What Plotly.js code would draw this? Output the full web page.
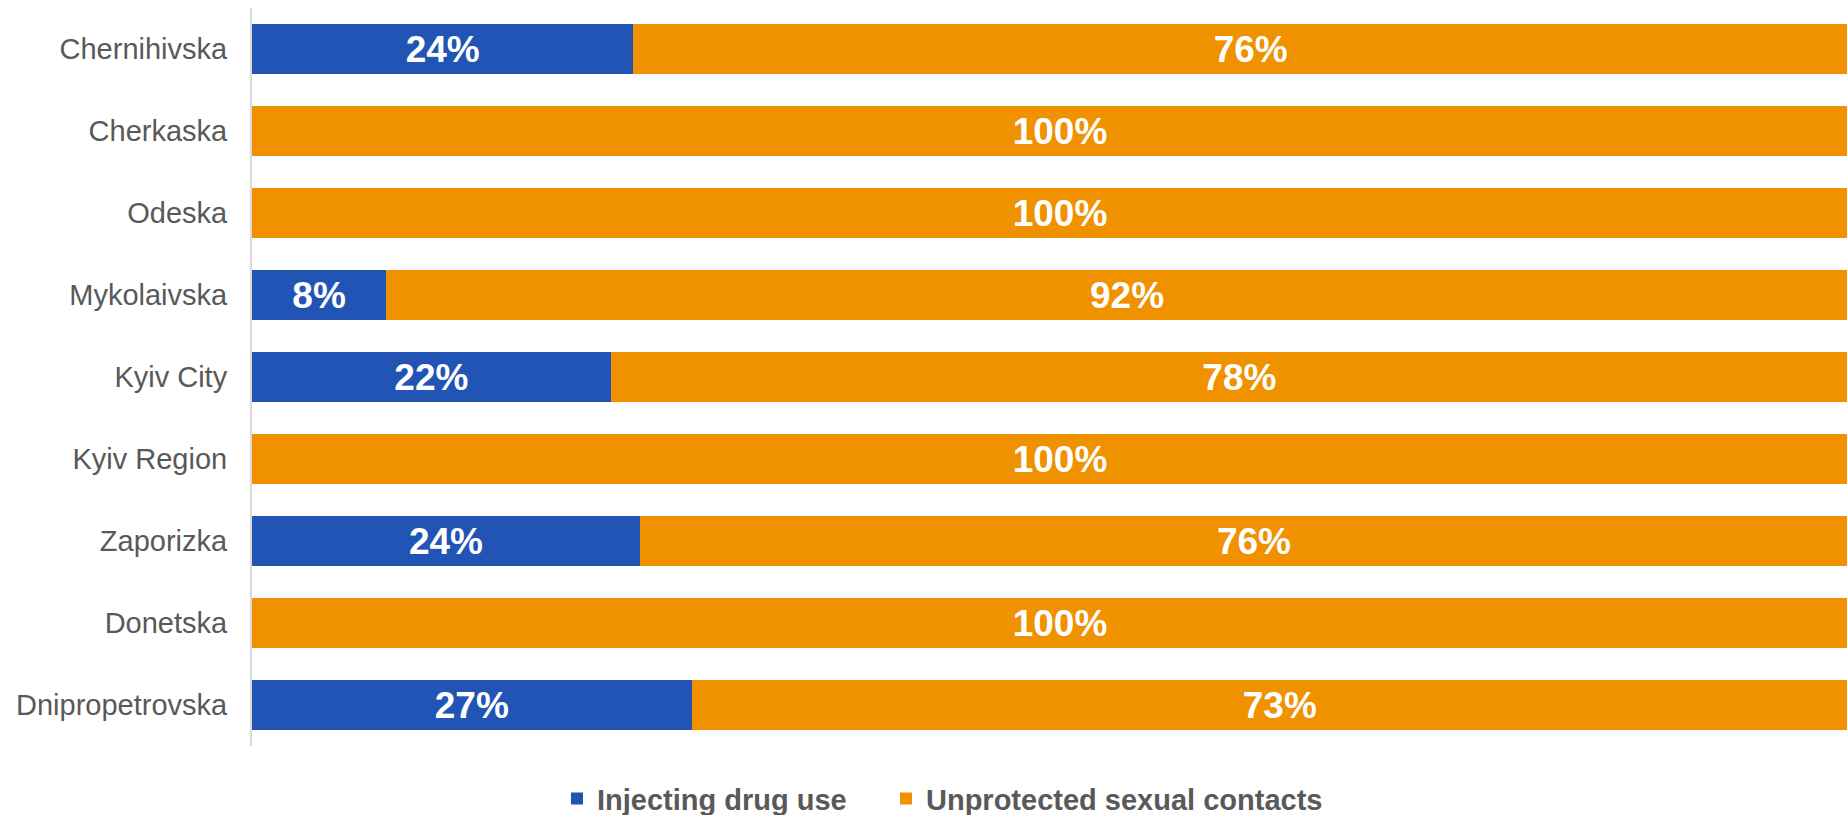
<!DOCTYPE html>
<html>
<head>
<meta charset="utf-8">
<script src="https://cdn.plot.ly/plotly-3.0.1.min.js"></script>
<style>
  html, body { margin: 0; padding: 0; background: #ffffff; }
  #chart { width: 1847px; height: 815px; }
</style>
</head>
<body>
<div id="chart"></div>
<script>
// Categories, top to bottom
const regions = [
  "Chernihivska", "Cherkaska", "Odeska", "Mykolaivska", "Kyiv City",
  "Kyiv Region", "Zaporizka", "Donetska", "Dnipropetrovska"
];
const injectingDrugUse = [23.6, 0, 0, 8.3, 22.2, 0, 24.0, 0, 27.2];
const unprotectedSex   = [76.4, 100, 100, 91.7, 77.8, 100, 76.0, 100, 72.8];
const seriesNames = ["Injecting drug use", "Unprotected sexual contacts"];

const FONT = "Arial, 'Liberation Sans', sans-serif";
const label = v => v > 0 ? Math.round(v) + "%" : "";

const common = {
  type: "bar",
  orientation: "h",
  y: regions,
  textposition: "inside",
  insidetextanchor: "middle",
  constraintext: "none",
  textangle: 0,
  textfont: { family: FONT, size: 37, color: "#ffffff", weight: "bold" },
  hoverinfo: "skip"
};

const traces = [
  Object.assign({}, common, {
    name: seriesNames[0],
    x: injectingDrugUse,
    text: injectingDrugUse.map(label),
    marker: { color: "#2254B6", line: { width: 0 } },
    legend: "legend"
  }),
  Object.assign({}, common, {
    name: seriesNames[1],
    x: unprotectedSex,
    text: unprotectedSex.map(label),
    marker: { color: "#F09100", line: { width: 0 } },
    legend: "legend2"
  })
];

const legendStyle = {
  orientation: "h",
  xref: "container",
  yref: "container",
  xanchor: "left",
  y: 0.02,
  yanchor: "middle",
  font: { family: FONT, size: 29, color: "#595959", weight: "bold" },
  itemwidth: 30,
  bgcolor: "rgba(0,0,0,0)"
};

const layout = {
  width: 1847,
  height: 815,
  barmode: "stack",
  bargap: 0.39,
  margin: { l: 252, r: 0, t: 8, b: 69, pad: 0 },
  paper_bgcolor: "#ffffff",
  plot_bgcolor: "#ffffff",
  font: { family: FONT, color: "#595959" },
  xaxis: {
    // the chart's plot area runs slightly past the right edge of the picture
    range: [0, 98.7],
    showgrid: false,
    zeroline: false,
    showticklabels: false,
    showline: false,
    fixedrange: true
  },
  yaxis: {
    autorange: "reversed",
    showgrid: false,
    zeroline: false,
    showline: true,
    linecolor: "#D9D9D9",
    linewidth: 2,
    ticks: "",
    ticklabelstandoff: 17,
    tickfont: { family: FONT, size: 29, color: "#595959" },
    fixedrange: true
  },
  showlegend: true,
  legend: Object.assign({}, legendStyle, { x: 557 / 1847 }),
  legend2: Object.assign({}, legendStyle, { x: 886 / 1847 })
};

Plotly.newPlot("chart", traces, layout, { displayModeBar: false, staticPlot: true });
</script>
</body>
</html>
